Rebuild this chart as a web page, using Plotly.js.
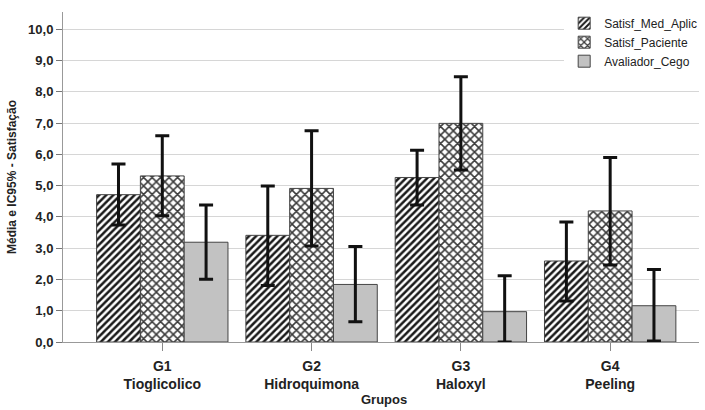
<!DOCTYPE html>
<html><head><meta charset="utf-8">
<script src="https://cdn.plot.ly/plotly-3.0.1.min.js"></script>
<style>html,body{margin:0;padding:0;background:#fff}#chart{width:705px;height:410px}</style>
</head><body><div id="chart"></div>
<script>
const groupCodes = ['G1', 'G2', 'G3', 'G4'];
const groupNames = ['Tioglicolico', 'Hidroquimona', 'Haloxyl', 'Peeling'];
const seriesNames = ['Satisf_Med_Aplic', 'Satisf_Paciente', 'Avaliador_Cego'];

const medAplicMean = [4.71, 3.41, 5.26, 2.59];
const medAplicUpper = [5.69, 4.99, 6.13, 3.84];
const medAplicLower = [3.74, 1.81, 4.38, 1.31];

const pacienteMean = [5.31, 4.91, 6.99, 4.19];
const pacienteUpper = [6.59, 6.75, 8.48, 5.90];
const pacienteLower = [4.04, 3.07, 5.50, 2.46];

const cegoMean = [3.19, 1.84, 0.97, 1.16];
const cegoUpper = [4.38, 3.05, 2.12, 2.32];
const cegoLower = [2.01, 0.65, 0.00, 0.03];

const cats = groupCodes.map((c, i) => c + '<br>' + groupNames[i]);

function mk(name, mean, up, lo, marker) {
  return {
    type: 'bar', name: name, x: cats, y: mean,
    marker: marker,
    error_y: {
      type: 'data', symmetric: false,
      array: mean.map((m, i) => up[i] - m),
      arrayminus: mean.map((m, i) => m - lo[i]),
      color: '#111', thickness: 3, width: 7
    }
  };
}

const data = [
  mk(seriesNames[0], medAplicMean, medAplicUpper, medAplicLower, {
    color: 'white',
    line: {color: '#444', width: 1},
    pattern: {shape: '/', fgcolor: '#1a1a1a', bgcolor: 'white', size: 5, solidity: 0.5}
  }),
  mk(seriesNames[1], pacienteMean, pacienteUpper, pacienteLower, {
    color: 'white',
    line: {color: '#444', width: 1},
    pattern: {shape: 'x', fgcolor: '#3a3a3a', bgcolor: 'white', size: 6, solidity: 0.45}
  }),
  mk(seriesNames[2], cegoMean, cegoUpper, cegoLower, {
    color: '#c2c2c2',
    line: {color: '#444', width: 1}
  })
];

const layout = {
  width: 705, height: 410,
  margin: {l: 63, r: 3, t: 12, b: 68},
  paper_bgcolor: 'white', plot_bgcolor: 'white',
  font: {family: 'Liberation Sans, Arial, sans-serif', color: '#222'},
  separators: ',.',
  barmode: 'group', bargap: 0.12, bargroupgap: 0,
  showlegend: true,
  legend: {
    x: 1.005, xanchor: 'right', y: 1.01, yanchor: 'top',
    bgcolor: 'white', borderwidth: 0,
    font: {size: 12, color: '#222'},
    tracegroupgap: 0, itemwidth: 30
  },
  xaxis: {
    type: 'category', range: [-0.665, 3.595],
    showline: true, linecolor: '#999', linewidth: 1,
    ticks: 'outside', ticklen: 8, tickcolor: '#888',
    ticklabelstandoff: 3,
    showgrid: false,
    tickfont: {size: 14, weight: 'bold', color: '#222'}
  },
  yaxis: {
    range: [0, 10.55], dtick: 1, tick0: 0, tickformat: '.1f',
    showline: true, linecolor: '#999', linewidth: 1,
    ticks: 'outside', ticklen: 6, tickcolor: '#777',
    showgrid: true, gridcolor: '#d6d6d6', gridwidth: 1, zeroline: false,
    tickfont: {size: 13, weight: 'bold', color: '#222'},
    title: {text: 'Média e IC95% - Satisfação', font: {size: 12, weight: 'bold', color: '#222'}, standoff: 8}
  },
  annotations: [{
    text: 'Grupos', xref: 'paper', yref: 'paper', x: 0.505, y: -0.173,
    xanchor: 'center', yanchor: 'middle', showarrow: false,
    font: {size: 13, weight: 'bold', color: '#222'}
  }]
};

Plotly.newPlot('chart', data, layout, {displayModeBar: false, staticPlot: true});
</script></body></html>
